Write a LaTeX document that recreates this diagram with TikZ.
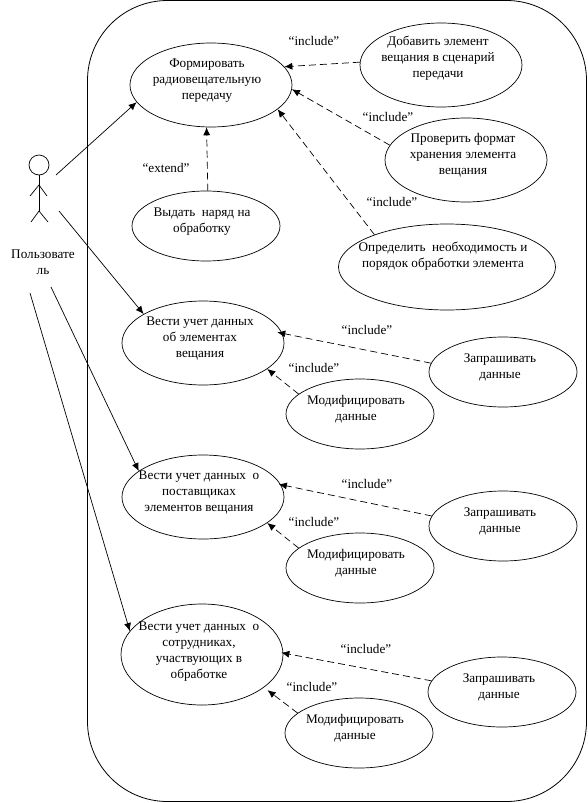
\documentclass[tikz,border=0pt]{standalone}
\usepackage{fontspec}
\setmainfont{Liberation Serif}
\usetikzlibrary{shapes.geometric,arrows.meta}

% text block of a use case, moved by (#1,#2) from the middle of its ellipse
\newcommand{\casetext}[3]{\raisebox{#2}[0pt][0pt]{\makebox[0pt]{\hspace*{#1}\hspace*{#1}\begin{tabular}{@{}c@{}}#3\end{tabular}}}}

\tikzset{
	usecase/.style={draw, ellipse, inner sep=0pt, line width=0.7pt, minimum width=162pt, minimum height=84pt},
	smallcase/.style={usecase, minimum width=148pt, minimum height=70pt},
	relation/.style={inner sep=0pt},
	assoc/.style={-{Latex[length=8pt,width=7pt]}, line width=0.7pt},
	depend/.style={assoc, dash pattern=on 7pt off 4pt},
	stickman/.style={line width=0.7pt}
}

\begin{document}
\begin{tikzpicture}[x=1pt,y=-1pt,font=\fontsize{13.2}{16}\selectfont]
	\useasboundingbox (0,0) rectangle (588,803);

	% system boundary
	\draw[line width=0.8pt, rounded corners=80pt] (87.5,0.5) rectangle (586.5,801.5);

	% actor
	\node[draw, circle, stickman, inner sep=0pt, minimum size=20pt] at (39,165) (head) {};
	\coordinate (hip) at (39,211);
	\coordinate (shoulder) at (39,185);
	\coordinate (handl) at (30,196);
	\coordinate (handr) at (47,196);
	\coordinate (footl) at (31,222);
	\coordinate (footr) at (48,222);
	\draw[stickman] (head) -- (hip);
	\draw[stickman] (handl) -- (shoulder) -- (handr);
	\draw[stickman] (footl) -- (hip) -- (footr);
	\node[align=center, inner sep=0pt] at (43,262) (user) {Пользовате\\ль};

	% use cases
	\node[usecase] at (211,85) (form) {\casetext{-4pt}{2pt}{Формировать\\радиовещательную\\передачу}};
	\node[usecase] at (441,65) (add) {\casetext{-3pt}{4pt}{Добавить элемент\\вещания в сценарий\\передачи}};
	\node[usecase] at (466,160) (check) {\casetext{-3pt}{1.5pt}{Проверить формат\\хранения элемента\\вещания}};
	\node[usecase, minimum width=217pt, minimum height=86pt] at (447,267) (need) {\casetext{-4pt}{8pt}{Определить~ необходимость и\\порядок обработки элемента}};
	\node[smallcase] at (206,226) (issue) {\casetext{-4pt}{2pt}{Выдать~ наряд на\\обработку}};

	\node[usecase] at (203,343) (ledgerA) {\casetext{-3pt}{2pt}{Вести учет данных\\об элементах\\вещания}};
	\node[smallcase] at (503,372) (queryA) {\casetext{-3pt}{2pt}{Запрашивать\\данные}};
	\node[smallcase] at (360,414) (modA) {\casetext{-4pt}{2pt}{Модифицировать\\данные}};

	\node[usecase] at (203,497) (ledgerB) {\casetext{-4pt}{2pt}{Вести учет данных~ о\\поставщиках\\элементов вещания}};
	\node[smallcase] at (503,526) (queryB) {\casetext{-3pt}{2pt}{Запрашивать\\данные}};
	\node[smallcase] at (360,568) (modB) {\casetext{-4pt}{2pt}{Модифицировать\\данные}};

	\node[usecase, minimum height=101pt] at (202,654.5) (ledgerC) {\casetext{-3pt}{0pt}{Вести учет данных~ о\\сотрудниках,\\участвующих в\\обработке}};
	\node[smallcase] at (502,692) (queryC) {\casetext{-3pt}{2pt}{Запрашивать\\данные}};
	\node[smallcase] at (359,733) (modC) {\casetext{-4pt}{2pt}{Модифицировать\\данные}};

	% labels
	\node[relation] at (314,41) (incadd) {“include”};
	\node[relation] at (388,117) (inccheck) {“include”};
	\node[relation] at (392,202) (incneed) {“include”};
	\node[relation] at (166,168) (extissue) {“extend”};
	\node[relation] at (367,330) (incqueryA) {“include”};
	\node[relation] at (314,368) (incmodA) {“include”};
	\node[relation] at (367,484) (incqueryB) {“include”};
	\node[relation] at (314,522) (incmodB) {“include”};
	\node[relation] at (366,649) (incqueryC) {“include”};
	\node[relation] at (312,687) (incmodC) {“include”};

	% actor links, they start in free space
	\coordinate (userform) at (56,175);
	\coordinate (userA) at (59,211);
	\coordinate (userB) at (51,287);
	\coordinate (userC) at (30,293);
	\draw[assoc] (userform) -- (form.193.5);
	\draw[assoc] (userA) -- (ledgerA.154.6);
	\draw[assoc] (userB) -- (ledgerB.158.7);
	\draw[assoc] (userC) -- (ledgerC.162);

	% dependencies
	\draw[depend] (add.178.6) -- (form.14);
	\draw[depend] (check.169) -- (form.357);
	\draw[depend] (need.156) -- (form.340);
	\draw[depend] (issue.87) -- (form.264.6);
	\draw[depend, shorten >=-5pt] (queryA.173) -- (ledgerA.7);
	\draw[depend] (modA.162) -- (ledgerA.338);
	\draw[depend, shorten >=-2pt] (queryB.172) -- (ledgerB.9.6);
	\draw[depend] (modB.162) -- (ledgerB.338.5);
	\draw[depend, shorten >=-2pt] (queryC.171) -- (ledgerC.1.7);
	\draw[depend, shorten >=4.5pt] (modC.162) -- (ledgerC.332.4);
\end{tikzpicture}
\end{document}
